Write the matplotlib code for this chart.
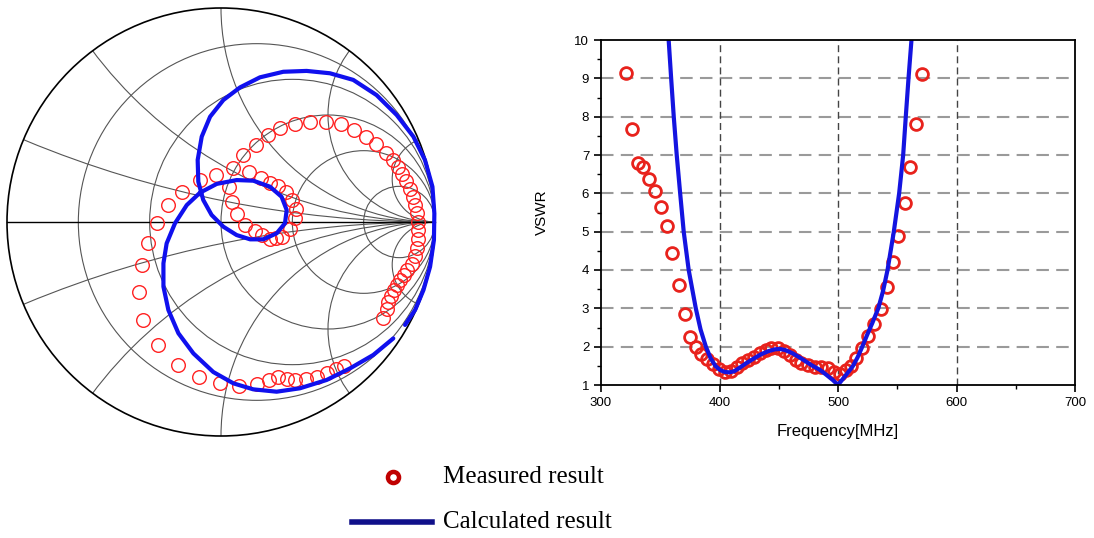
import numpy as np
import matplotlib
matplotlib.use("Agg")
import matplotlib.pyplot as plt
from matplotlib.patches import Circle
from matplotlib.lines import Line2D
from matplotlib.ticker import MultipleLocator

######################### Data ############################
# Smith chart: reflection coefficient (real, imag)
smith_meas_re = [0.757, 0.776, 0.780, 0.794, 0.808, 0.822, 0.836, 0.855, 0.869, 0.893,
                 0.907, 0.916, 0.921, 0.921, 0.921, 0.916, 0.907, 0.897, 0.883, 0.864,
                 0.846, 0.827, 0.804, 0.771, 0.724, 0.678, 0.621, 0.561, 0.491, 0.416,
                 0.346, 0.276, 0.220, 0.164, 0.103, 0.056, 0.037, 0.051, 0.075, 0.112,
                 0.159, 0.192, 0.229, 0.257, 0.285, 0.322, 0.346, 0.350, 0.332, 0.304,
                 0.266, 0.229, 0.187, 0.131, -0.023, -0.098, -0.182, -0.248, -0.299, -0.341,
                 -0.369, -0.383, -0.364, -0.294, -0.201, -0.103, -0.005, 0.084, 0.168, 0.224,
                 0.266, 0.308, 0.346, 0.397, 0.449, 0.495, 0.537, 0.575]
smith_meas_im = [-0.449, -0.407, -0.374, -0.346, -0.318, -0.294, -0.271, -0.248, -0.224, -0.196,
                 -0.159, -0.121, -0.079, -0.037, 0.0, 0.042, 0.079, 0.117, 0.154, 0.192,
                 0.224, 0.257, 0.290, 0.322, 0.364, 0.397, 0.430, 0.458, 0.467, 0.467,
                 0.458, 0.439, 0.407, 0.360, 0.313, 0.252, 0.164, 0.093, 0.037, -0.014,
                 -0.042, -0.061, -0.079, -0.075, -0.070, -0.033, 0.019, 0.061, 0.103, 0.140,
                 0.168, 0.182, 0.206, 0.234, 0.220, 0.196, 0.140, 0.079, -0.005, -0.098,
                 -0.201, -0.327, -0.458, -0.575, -0.668, -0.724, -0.752, -0.766, -0.757, -0.738,
                 -0.724, -0.734, -0.738, -0.734, -0.724, -0.706, -0.687, -0.673]

smith_calc_re = [0.805, 0.712, 0.603, 0.494, 0.369, 0.260, 0.151, 0.058, -0.036, -0.129,
                 -0.199, -0.246, -0.269, -0.269, -0.254, -0.215, -0.160, -0.098, -0.020, 0.073,
                 0.151, 0.229, 0.283, 0.307, 0.299, 0.260, 0.198, 0.136, 0.073, 0.011,
                 -0.044, -0.083, -0.106, -0.109, -0.090, -0.051, 0.011, 0.089, 0.182, 0.291,
                 0.400, 0.509, 0.618, 0.727, 0.821, 0.899, 0.953, 0.988, 0.997, 0.995,
                 0.977, 0.946, 0.907, 0.860]
smith_calc_im = [-0.544, -0.621, -0.684, -0.738, -0.777, -0.793, -0.782, -0.754, -0.701, -0.614,
                 -0.520, -0.411, -0.302, -0.193, -0.100, -0.006, 0.079, 0.137, 0.178, 0.196,
                 0.193, 0.165, 0.118, 0.056, -0.006, -0.053, -0.081, -0.081, -0.061, -0.022,
                 0.033, 0.103, 0.188, 0.290, 0.399, 0.492, 0.570, 0.629, 0.676, 0.702,
                 0.706, 0.695, 0.664, 0.593, 0.500, 0.399, 0.290, 0.165, 0.040, -0.084,
                 -0.209, -0.318, -0.411, -0.481]

smith_r = [0.2, 0.5, 1, 2, 5]
smith_x = [0.2, 0.5, 1, 2, 5]

# VSWR vs frequency
meas_freq = [320.7, 325.8, 331.1, 335.5, 340.8, 345.3, 350.7, 355.8, 360.2, 365.6,
             370.5, 375.4, 380.3, 384.5, 389.5, 394.3, 399.6, 404.6, 409.9, 414.5,
             419.2, 424.0, 428.8, 433.8, 438.9, 443.7, 449.3, 454.1, 459.2, 464.2,
             469.1, 474.6, 480.3, 485.9, 491.5, 496.5, 501.4, 506.5, 511.0, 515.5,
             520.5, 525.5, 530.5, 536.2, 541.2, 546.0, 550.6, 556.2, 560.6, 565.7, 570.8]
meas_vswr = [9.13, 7.68, 6.78, 6.68, 6.37, 6.07, 5.64, 5.15, 4.45, 3.62,
             2.86, 2.25, 2.00, 1.81, 1.67, 1.55, 1.41, 1.35, 1.37, 1.48,
             1.57, 1.65, 1.74, 1.83, 1.91, 1.96, 1.96, 1.90, 1.78, 1.65,
             1.57, 1.52, 1.48, 1.48, 1.44, 1.35, 1.30, 1.39, 1.50, 1.70,
             1.96, 2.27, 2.58, 2.98, 3.56, 4.21, 4.90, 5.75, 6.69, 7.82, 9.12]

calc_freq = [357.1, 359.2, 361.4, 363.9, 366.8, 369.8, 374.0, 380.0, 384.0, 388.5,
             392.5, 396.5, 400.5, 404.5, 408.5, 412.5, 417.0, 422.6, 428.9, 435.0,
             441.0, 446.7, 451.0, 455.5, 461.5, 467.0, 472.5, 478.0, 484.5, 490.0,
             495.6, 500.0, 504.4, 508.5, 512.7, 516.5, 520.5, 524.5, 529.0, 534.0,
             538.0, 541.8, 547.1, 551.6, 555.0, 557.2, 559.5, 562.0]
calc_vswr = [10.0, 9.0, 8.0, 7.0, 6.0, 5.0, 4.0, 3.0, 2.45, 2.0,
             1.70, 1.50, 1.39, 1.34, 1.33, 1.36, 1.45, 1.57, 1.69, 1.80,
             1.88, 1.93, 1.94, 1.91, 1.83, 1.73, 1.62, 1.51, 1.40, 1.27,
             1.13, 1.0, 1.17, 1.33, 1.50, 1.72, 2.0, 2.3, 2.62, 3.0,
             3.45, 4.0, 5.0, 6.0, 7.0, 8.0, 9.0, 10.0]

legend_labels = ["Measured result", "Calculated result"]

###########################################################
W, H = 1094, 538
fig = plt.figure(figsize=(W / 100, H / 100), dpi=100)

# ---------------- Smith chart ----------------
cx, cy, R = 221, 222, 214
m = 1.03
ax1 = fig.add_axes([(cx - R * m) / W, (H - cy - R * m) / H, 2 * R * m / W, 2 * R * m / H])
ax1.set_xlim(-m, m)
ax1.set_ylim(-m, m)
ax1.set_aspect("equal")
ax1.axis("off")

unit = Circle((0, 0), 1, transform=ax1.transData, fill=False)
grid_col = "#555555"
for r in smith_r:
    c = Circle((r / (1 + r), 0), 1 / (1 + r), fill=False, ec=grid_col, lw=0.8)
    ax1.add_patch(c)
for x in smith_x:
    for s in (1, -1):
        c = Circle((1, s / x), 1 / x, fill=False, ec=grid_col, lw=0.8)
        ax1.add_patch(c)
        c.set_clip_path(unit)
ax1.plot([-1, 1], [0, 0], color="black", lw=1.0)
ax1.add_patch(Circle((0, 0), 1, fill=False, ec="black", lw=1.2))

ax1.plot(smith_meas_re, smith_meas_im, "o", ms=9.8, mfc="none", mec="#ff2222", mew=1.0)
ax1.plot(smith_calc_re, smith_calc_im, "-", color="#1010ee", lw=3.0, solid_capstyle="round")

# ---------------- VSWR plot ----------------
left, right, top, bottom = 601, 1075, 40, 385
ax2 = fig.add_axes([left / W, (H - bottom) / H, (right - left) / W, (bottom - top) / H])
ax2.set_xlim(300, 700)
ax2.set_ylim(1, 10)
ax2.xaxis.set_major_locator(MultipleLocator(100))
ax2.xaxis.set_minor_locator(MultipleLocator(50))
ax2.yaxis.set_major_locator(MultipleLocator(1))
ax2.yaxis.set_minor_locator(MultipleLocator(0.5))
ax2.tick_params(which="major", direction="out", length=5, width=1.2, labelsize=9.5)
ax2.tick_params(which="minor", direction="out", length=3, width=1.0)
for lab in ax2.get_xticklabels() + ax2.get_yticklabels():
    lab.set_family("Liberation Sans")
for sp in ax2.spines.values():
    sp.set_linewidth(1.3)

for yv in range(2, 10):
    ax2.axhline(yv, color="#9a9a9a", lw=1.5, ls=(0, (6, 3.5)), zorder=0)
for xv in (400, 500, 600):
    ax2.axvline(xv, color="#444444", lw=1.0, ls=(0, (5, 3)), zorder=0)

ax2.plot(meas_freq, meas_vswr, "o", ms=8.5, mfc="none", mec="#e8221c", mew=2.0, clip_on=False)
ax2.plot(calc_freq, calc_vswr, "-", color="#1414e0", lw=3.0)

ax2.set_xlabel("Frequency[MHz]", fontsize=12, family="Liberation Sans", labelpad=11)
ax2.set_ylabel("VSWR", fontsize=11, family="Liberation Sans", labelpad=18)

# ---------------- legend ----------------
fig.add_artist(Line2D([393 / W], [1 - 477 / H], transform=fig.transFigure, marker="o",
                      ms=8, mfc="none", mec="#c00000", mew=3.2))
fig.add_artist(Line2D([352 / W, 432 / W], [1 - 522 / H] * 2, transform=fig.transFigure,
                      color="#10108a", lw=4))
fig.text(443 / W, 1 - 477 / H, legend_labels[0], fontsize=18, family="Liberation Serif",
         va="center", ha="left")
fig.text(443 / W, 1 - 522 / H, legend_labels[1], fontsize=18, family="Liberation Serif",
         va="center", ha="left")

fig.savefig("out.png", dpi=100)
